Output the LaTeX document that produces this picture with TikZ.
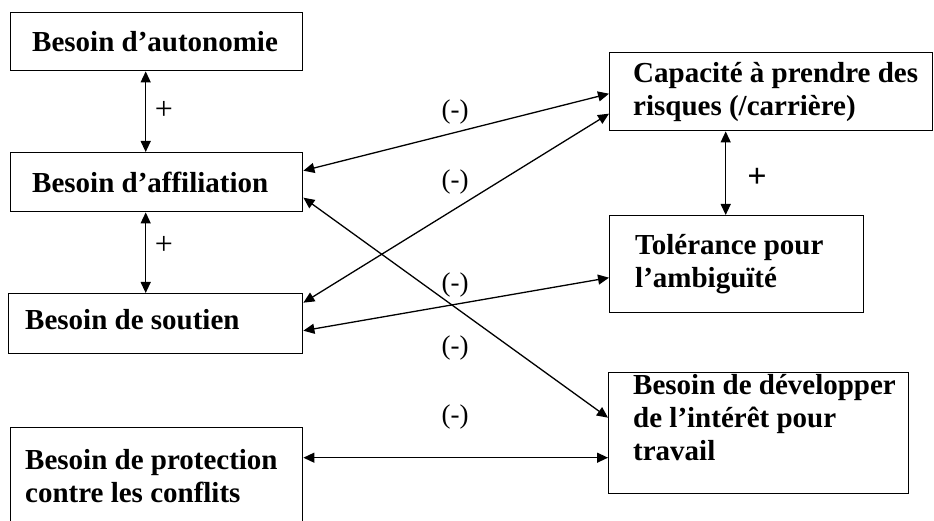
\documentclass[tikz,border=0pt]{standalone}
\usepackage{fontspec}
\setmainfont{Liberation Serif}
\usetikzlibrary{arrows.meta,positioning}

\begin{document}
\begin{tikzpicture}[%
        x=1pt, y=1pt,
        boite/.style={draw, line width=1.4pt, shape=rectangle, anchor=north west, inner sep=0pt},
        texte/.style={anchor=west, inner sep=0pt, align=left, font=\bfseries\fontsize{29}{33}\selectfont},
        signe/.style={inner sep=0pt, font=\fontsize{27}{31}\selectfont},
        lien/.style={line width=1.3pt, {Triangle[length=11pt,width=10pt]}-{Triangle[length=11pt,width=10pt]}}
    ]
        \useasboundingbox (0,0) rectangle (934,521);

        % besoins (gauche)
        \node [boite, minimum width=292pt, minimum height=58pt] (autonomie)  at (10,509) {};
        \node [boite, minimum width=292pt, minimum height=59pt] (affiliation) at (10,369) {};
        \node [boite, minimum width=294pt, minimum height=60pt] (soutien)    at (8,228) {};
        \node [boite, minimum width=292pt, minimum height=97pt] (protection) at (10,94) {};

        % capacites (droite)
        \node [boite, minimum width=323pt, minimum height=78pt]  (capacite)   at (609,469) {};
        \node [boite, minimum width=254pt, minimum height=97pt]  (tolerance)  at (609,306) {};
        \node [boite, minimum width=300pt, minimum height=121pt] (developper) at (608,149) {};

        \node [texte, right=22pt of autonomie.west]   (t-autonomie)   {Besoin d’autonomie};
        \node [texte, right=22pt of affiliation.west] (t-affiliation) {Besoin d’affiliation};
        \node [texte, right=17pt of soutien.west, yshift=4pt] (t-soutien) {Besoin de soutien};
        \node [texte, right=15pt of protection.west]  (t-protection)  {Besoin de protection\\contre les conflits};
        \node [texte, right=24pt of capacite.west]    (t-capacite)    {Capacité à prendre des\\risques (/carrière)};
        \node [texte, right=26pt of tolerance.west]   (t-tolerance)   {Tolérance pour\\l’ambiguïté};
        \node [texte, right=25pt of developper.west, yshift=16pt] (t-developper)
            {Besoin de développer\\de l’intérêt pour\\travail};

        % liens verticaux
        \draw [lien] ([xshift=-11pt]autonomie.south) -- ([xshift=-11pt]affiliation.north);
        \coordinate (bas) at ([xshift=-11pt]affiliation.south);
        \draw [lien] (bas) -- (bas |- soutien.north);
        \coordinate (haut) at ([xshift=-45.5pt]capacite.south);
        \draw [lien] (haut) -- (haut |- tolerance.north);

        \node [signe, font=\fontsize{32}{36}\selectfont] (plus1) at (164,411) {+};
        \node [signe, font=\fontsize{32}{36}\selectfont] (plus2) at (164,276) {+};
        \node [signe, font=\bfseries\fontsize{34}{38}\selectfont] (plus3) at (757,343) {+};

        % liens croises
        \foreach \a/\sa/\b/\sb in
            {affiliation/11.5/capacite/-2, soutien/21/capacite/-22,
             soutien/-7/tolerance/-13.5, affiliation/-15.5/developper/15.5,
             protection/18.5/developper/-24.5}
            \draw [lien] ([yshift=\sa pt]\a.east) -- ([yshift=\sb pt]\b.west);

        \foreach \i/\y in {1/409,2/339,3/236,4/173,5/104}
            \node [signe] (moins\i) at (455,\y) {(-)};
    \end{tikzpicture}
\end{document}
